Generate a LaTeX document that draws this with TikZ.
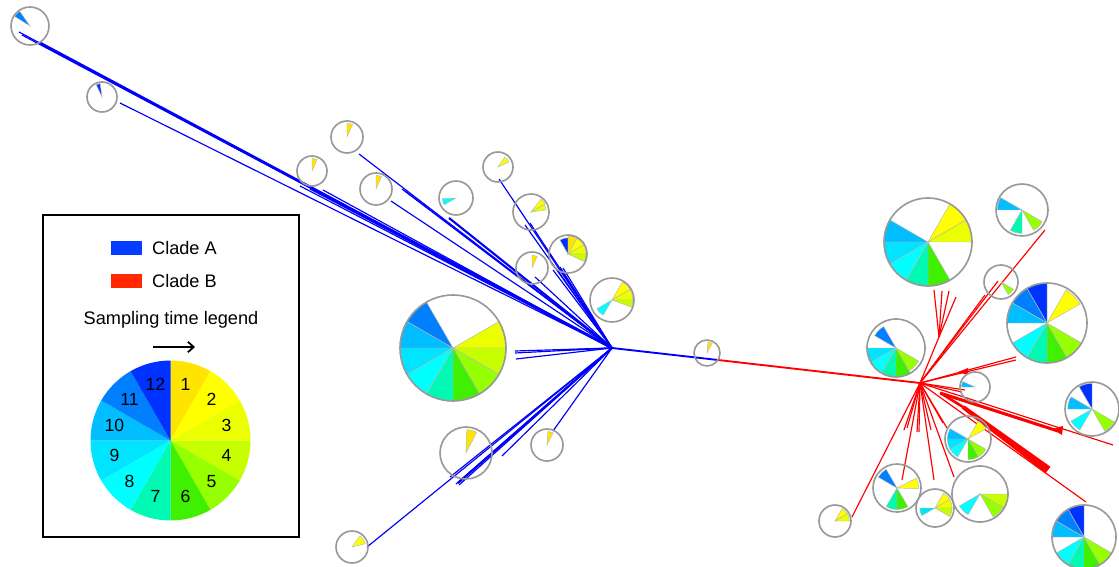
\documentclass[tikz,border=0pt]{standalone}
\usepackage{fontspec}
\setmainfont{Liberation Sans}
\usetikzlibrary{arrows.meta}

% sampling time colours, 1 = first, 12 = last
\definecolor{t1}{RGB}{255,228,0}
\definecolor{t2}{RGB}{255,255,0}
\definecolor{t3}{RGB}{235,255,0}
\definecolor{t4}{RGB}{200,255,0}
\definecolor{t5}{RGB}{150,255,0}
\definecolor{t6}{RGB}{64,240,0}
\definecolor{t7}{RGB}{0,250,180}
\definecolor{t8}{RGB}{0,255,255}
\definecolor{t9}{RGB}{0,228,255}
\definecolor{t10}{RGB}{0,190,255}
\definecolor{t11}{RGB}{0,128,255}
\definecolor{t12}{RGB}{0,50,255}
\definecolor{cladeblue}{RGB}{0,0,250}
\definecolor{cladered}{RGB}{255,0,0}
\definecolor{keyblue}{RGB}{5,60,255}
\definecolor{keyred}{RGB}{255,40,0}

\tikzset{
  cladeA/.style={draw=cladeblue, line width=1pt},
  cladeB/.style={draw=cladered, line width=1pt},
  slice/.style={draw=gray!55, line width=0.4pt},
  rim/.style={draw=gray!80, line width=1.4pt},
  keytext/.style={font=\fontsize{15.5}{18}\selectfont},
  digit/.style={font=\fontsize{15}{17}\selectfont},
}

% slice k of a pie (clockwise from 12 o'clock), radius scaled by #5
\newcommand{\pieslice}[5][slice]{%
  \pgfmathsetmacro{\slA}{30*#4-120}%
  \pgfmathsetmacro{\slB}{30*#4-90}%
  \pgfmathsetmacro{\slR}{#3*#5}%
  \filldraw[#1, fill=t#4] (#2) -- ++(\slA:\slR) arc[start angle=\slA, end angle=\slB, radius=\slR] -- cycle;}
% free wedge between two angles (counter-clockwise, as seen on the page)
\newcommand{\piewedge}[6]{%
  \pgfmathsetmacro{\slR}{#2*#5}%
  \filldraw[slice, fill=#6] (#1) -- ++(-#4:\slR) arc[start angle=-#4, end angle=-#3, radius=\slR] -- cycle;}
\newcommand{\pierim}[2]{\draw[rim] (#1) circle[radius=#2];}

\begin{document}
\begin{tikzpicture}[x=0.03cm, y=-0.03cm]
\useasboundingbox (0,0) rectangle (1119,567);

% hubs of the two clades
\coordinate (hubA) at (612,348);
\coordinate (hubB) at (920,383);
\coordinate (split) at (718,360);
\coordinate (forkB) at (939,337);

% Clade A branches
\draw[cladeA, line width=2.4pt] (hubA) -- (40,43);
\foreach \tip in {(19,32),(22,35),(120,103),(300,186),(310,189),(323,190)}
  \draw[cladeA] (hubA) -- \tip;
\foreach \tip in {(359,154),(391,201),(402,189),(405,191),(499,179),(525,225),(530,223),
                  (553,270),(556,268),(560,267),(563,268),(535,277),(588,316),(592,318)}
  \draw[cladeA] (hubA) -- \tip;
\draw[cladeA, line width=1.8pt] (hubA) -- (449,218);
\foreach \tip in {(515,351),(515,353),(516,359),(563,350)}
  \draw[cladeA] (hubA) -- \tip;
\foreach \tip in {(450,477),(456,484),(459,485),(502,456),(367,547),(553,431)}
  \draw[cladeA] (hubA) -- \tip;
\draw[cladeA, line width=1.8pt] (hubA) -- (458,483);

% stem between the clades
\draw[cladeA, line width=1.6pt] (hubA) -- (split);
\draw[cladeB, line width=1.6pt] (split) -- (hubB);

% Clade B branches
\draw[cladeB] (hubB) -- (forkB);
\foreach \tip in {(934,290),(942,291),(949,291),(956,297)}
  \draw[cladeB] (forkB) -- \tip;
\foreach \tip in {(1045,230),(998,281),(985,295),(1016,357),(1016,360),(962,392),(965,390),
                  (1113,445),(1086,502),(852,517),(902,480),(904,430),(907,428),(917,432),
                  (919,432),(931,430),(934,480),(954,477),(947,428),(943,423)}
  \draw[cladeB] (hubB) -- \tip;
\draw[cladeB, line width=2.6pt] (940,393) -- (1058,431);
\fill[cladered] (1052,429) -- (1063,426) -- (1062,435) -- cycle;
\fill[cladered] (958,372) -- (968,368) -- (968,375) -- cycle;
\draw[cladeB, line width=2.2pt] (942,394) -- (963,407);
\fill[cladered] (961.8,408.6) -- (964.2,405.4) -- (1050.5,466.8) -- (1045.5,473.2) -- cycle;

% Clade A pies
\coordinate (pA1) at (30,26);     \piewedge{pA1}{19}{125}{148}{.95}{t11}   \pierim{pA1}{19}
\coordinate (pA2) at (102,97);    \piewedge{pA2}{15}{98}{115}{.9}{t12}     \pierim{pA2}{15}
\coordinate (pA3) at (347,137);   \piewedge{pA3}{16}{66}{90}{.85}{t1}      \pierim{pA3}{16}
\coordinate (pA4) at (312,171);   \piewedge{pA4}{15}{66}{90}{.85}{t1}      \pierim{pA4}{15}
\coordinate (pA5) at (376,189);   \piewedge{pA5}{16}{66}{90}{.85}{t1}      \pierim{pA5}{16}
\coordinate (pA6) at (456,198);   \piewedge{pA6}{17}{183}{210}{.8}{t8}     \pierim{pA6}{17}
\coordinate (pA7) at (498,167);   \piewedge{pA7}{15}{25}{55}{.8}{t2}       \pierim{pA7}{15}
\coordinate (pA8) at (531,212);
\piewedge{pA8}{18}{30}{52}{.9}{t2} \piewedge{pA8}{18}{8}{30}{.85}{t3}      \pierim{pA8}{18}
\coordinate (pA9) at (568,254);
\foreach \k/\f in {12/.85,1/.95,2/.95,3/.95} {\pieslice{pA9}{19}{\k}{\f}}
\piewedge{pA9}{19}{-25}{0}{.95}{t4}                                        \pierim{pA9}{19}
\coordinate (pA10) at (532,268);  \piewedge{pA10}{16}{66}{90}{.8}{t1}      \pierim{pA10}{16}
\coordinate (pA11) at (612,300);
\foreach \k/\f in {2/.95,3/.95,8/.8} {\pieslice{pA11}{22}{\k}{\f}}
\piewedge{pA11}{22}{-20}{0}{.95}{t4}                                       \pierim{pA11}{22}
\coordinate (pA12) at (453,348);
\foreach \k in {3,...,11} {\pieslice{pA12}{53}{\k}{1}}                     \pierim{pA12}{53}
\coordinate (pA13) at (707,353);  \piewedge{pA13}{13}{62}{85}{.85}{t1}     \pierim{pA13}{13}
\coordinate (pA14) at (547,445);  \piewedge{pA14}{16}{63}{86}{.85}{t1}     \pierim{pA14}{16}
\coordinate (pA15) at (466,453);  \piewedge{pA15}{26}{63}{88}{.9}{t1}      \pierim{pA15}{26}
\coordinate (pA16) at (352,547);  \piewedge{pA16}{16}{14}{54}{.85}{t2}     \pierim{pA16}{16}

% Clade B pies
\coordinate (pB1) at (928,242);
\foreach \k in {2,3,6,7,8,9,10} {\pieslice{pB1}{44}{\k}{1}}                \pierim{pB1}{44}
\coordinate (pB2) at (1022,210);
\foreach \k/\f in {10/.95,5/.9,7/.9} {\pieslice{pB2}{26}{\k}{\f}}          \pierim{pB2}{26}
\coordinate (pB3) at (1001,282);  \pieslice{pB3}{17}{5}{.85}               \pierim{pB3}{17}
\coordinate (pB4) at (1047,323);
\foreach \k/\f in {12/1,11/1,10/1,8/1,7/1,6/1,5/1,2/.95} {\pieslice{pB4}{40}{\k}{\f}}
\pierim{pB4}{40}
\coordinate (pB5) at (896,348);
\foreach \k/\f in {11/.85,9/1,8/1,7/1,6/1,5/.9} {\pieslice{pB5}{29}{\k}{\f}} \pierim{pB5}{29}
\coordinate (pB6) at (975,387);   \piewedge{pB6}{15}{156}{180}{.9}{t10}    \pierim{pB6}{15}
\coordinate (pB7) at (1092,409);
\foreach \k/\f in {12/.95,10/.9,8/.9,5/.95} {\pieslice{pB7}{27}{\k}{\f}}    \pierim{pB7}{27}
\coordinate (pB8) at (968,439);
\foreach \k in {2,5,6,8,9,10} {\pieslice{pB8}{23}{\k}{.9}}                 \pierim{pB8}{23}
\coordinate (pB9) at (897,488);
\foreach \k in {11,7,6} {\pieslice{pB9}{24}{\k}{.9}}
\piewedge{pB9}{24}{-2}{27}{.9}{t2}                                         \pierim{pB9}{24}
\coordinate (pB10) at (935,508);
\foreach \k/\f in {2/.9,3/.9,4/.9,9/.8} {\pieslice{pB10}{19}{\k}{\f}}       \pierim{pB10}{19}
\coordinate (pB11) at (980,494);
\foreach \k/\f in {4/1,5/.95,8/.85} {\pieslice{pB11}{28}{\k}{\f}}           \pierim{pB11}{28}
\coordinate (pB12) at (835,521);
\foreach \k in {2,3} {\pieslice{pB12}{16}{\k}{.9}}                         \pierim{pB12}{16}
\coordinate (pB13) at (1084,537);
\foreach \k in {12,11,10,8,7,6,5} {\pieslice{pB13}{32}{\k}{1}}             \pierim{pB13}{32}

% legend
\draw[line width=1.2pt] (43,215) rectangle (299,537);
\fill[keyblue] (111,241) rectangle (142,255);
\node[keytext, anchor=west] (keyA) at (148,248) {Clade A};
\fill[keyred] (111,274) rectangle (142,288);
\node[keytext, anchor=west] (keyB) at (148,281) {Clade B};
\node[keytext] (timekey) at (171,320) {Sampling time legend};
\draw[line width=1.5pt, -{Straight Barb[length=5pt,width=9pt]}] (153,347) -- (195,347);
\coordinate (legpie) at (170.5,440.5);
\foreach \k in {1,...,12}{
  \pieslice[draw=none]{legpie}{80}{\k}{1}
  \pgfmathsetmacro{\midang}{30*\k-105}
  \path (legpie) ++(\midang:58) node[digit] {\k};
}
\end{tikzpicture}
\end{document}
